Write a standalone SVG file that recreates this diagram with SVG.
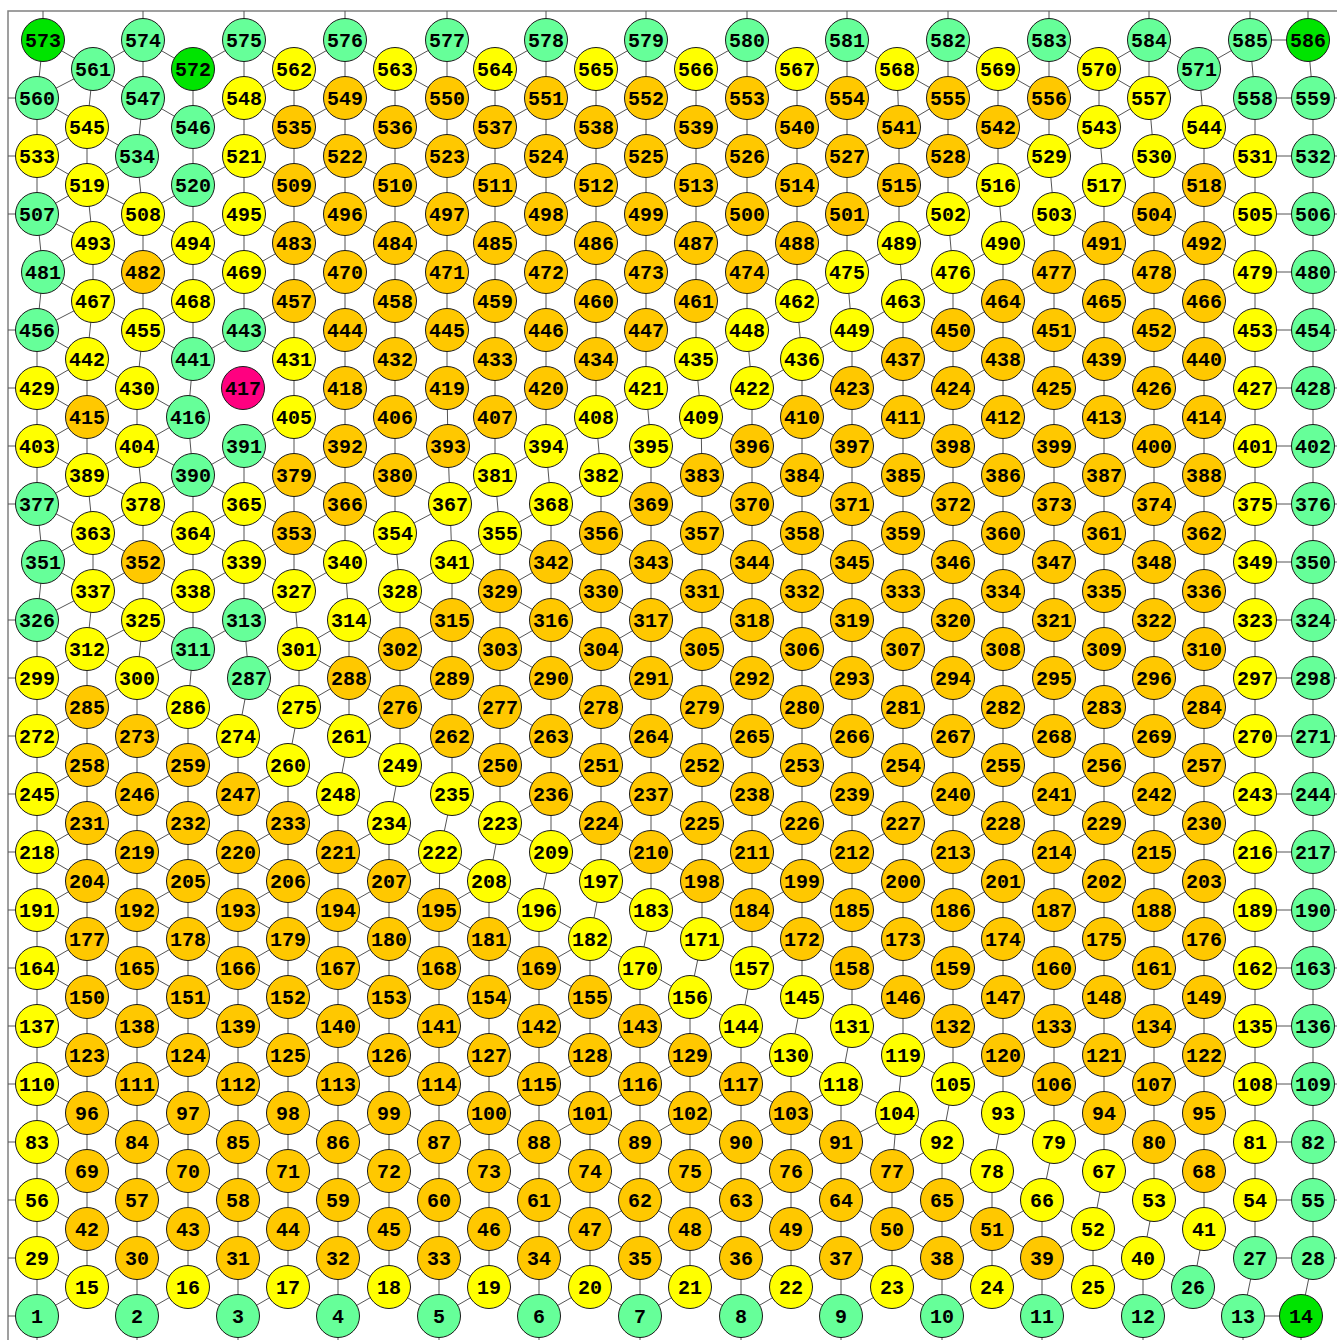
<svg xmlns="http://www.w3.org/2000/svg" width="1337" height="1340" viewBox="0 0 1337 1340">
<style>
.e path{fill:none;stroke:#555;stroke-width:1}
.fr{fill:none;stroke:#808080;stroke-width:1.5}
circle{stroke:#1a1a1a;stroke-width:1}
.b circle{fill:#00e400}
.g circle{fill:#66ff99}
.y circle{fill:#ffff00}
.o circle{fill:#ffc800}
.m circle{fill:#ff0080}
text{font-family:"Liberation Mono","DejaVu Sans Mono",monospace;font-size:20px;font-weight:bold;text-anchor:middle;fill:#000}
</style>
<rect width="1337" height="1340" fill="#fff"/>
<path class="fr" d="M8 1340V11H1337"/>
<g id="edges" class="e">
<path d="M43 40 93 69 143 40 193 69 244 40 294 69 345 40 395 69 447 40 495 69 546 40 596 69 646 40 696 69 747 40 797 69 847 40 897 69 948 40 998 69 1049 40 1099 69 1149 40 1199 69 1250 40"/>
<path d="M37 98 93 69 143 98 M244 98 294 69 345 98 395 69 447 98 495 69 546 98 596 69 646 98 696 69 747 98 797 69 847 98 897 69 948 98 998 69 1049 98 1099 69 1149 98 1199 69"/>
<path d="M37 98 87 127 M143 98 193 127 244 98 294 127 345 98 395 127 447 98 495 127 546 98 596 127 646 98 696 127 747 98 797 127 847 98 899 127 948 98 998 127 1049 98 1099 127 1149 98 M1204 127 1255 98"/>
<path d="M37 156 87 127 137 156 M244 156 294 127 345 156 395 127 447 156 495 127 546 156 596 127 646 156 696 127 747 156 797 127 847 156 899 127 948 156 998 127 1049 156 1099 127 M1154 156 1204 127 1255 156"/>
<path d="M37 156 87 185 137 156 M193 185 244 156 294 185 345 156 395 185 447 156 495 185 546 156 596 185 646 156 696 185 747 156 797 185 847 156 899 185 948 156 998 185 1049 156 M1104 185 1154 156 1204 185 1255 156"/>
<path d="M37 214 87 185 143 214 193 185 M244 214 294 185 345 214 395 185 447 214 495 185 546 214 596 185 646 214 696 185 747 214 797 185 847 214 899 185 948 214 998 185 M1054 214 1104 185 1154 214 1204 185 1255 214"/>
<path d="M37 214 93 243 143 214 193 243 244 214 294 243 345 214 395 243 447 214 495 243 546 214 596 243 646 214 696 243 747 214 797 243 847 214 899 243 948 214 M1003 243 1054 214 1104 243 1154 214 1204 243 1255 214"/>
<path d="M43 272 93 243 143 272 193 243 244 272 294 243 345 272 395 243 447 272 495 243 546 272 596 243 646 272 696 243 747 272 797 243 847 272 899 243 M953 272 1003 243 1054 272 1104 243 1154 272 1204 243 1255 272"/>
<path d="M43 272 93 301 143 272 193 301 244 272 294 301 345 272 395 301 447 272 495 301 546 272 596 301 646 272 696 301 747 272 797 301 847 272 M903 301 953 272 1003 301 1054 272 1104 301 1154 272 1204 301 1255 272"/>
<path d="M37 330 93 301 143 330 193 301 M244 330 294 301 345 330 395 301 447 330 495 301 546 330 596 301 646 330 696 301 747 330 797 301 M852 330 903 301 953 330 1003 301 1054 330 1104 301 1154 330 1204 301 1255 330"/>
<path d="M37 330 87 359 M143 330 193 359 244 330 294 359 345 330 395 359 447 330 495 359 546 330 596 359 646 330 696 359 747 330 M802 359 852 330 903 359 953 330 1003 359 1054 330 1104 359 1154 330 1204 359 1255 330"/>
<path d="M37 388 87 359 137 388 M294 359 345 388 395 359 447 388 495 359 546 388 596 359 646 388 696 359 M752 388 802 359 852 388 903 359 953 388 1003 359 1054 388 1104 359 1154 388 1204 359 1255 388"/>
<path d="M37 388 87 417 137 388 188 417 M294 417 345 388 395 417 447 388 495 417 546 388 596 417 646 388 M701 417 752 388 802 417 852 388 903 417 953 388 1003 417 1054 388 1104 417 1154 388 1204 417 1255 388"/>
<path d="M37 446 87 417 137 446 188 417 M244 446 294 417 345 446 395 417 448 446 495 417 546 446 596 417 M651 446 701 417 752 446 802 417 852 446 903 417 953 446 1003 417 1054 446 1104 417 1154 446 1204 417 1255 446"/>
<path d="M37 446 87 475 137 446 193 475 244 446 294 475 345 446 395 475 448 446 495 475 546 446 M601 475 651 446 702 475 752 446 802 475 852 446 903 475 953 446 1003 475 1054 446 1104 475 1154 446 1204 475 1255 446"/>
<path d="M37 504 87 475 143 504 193 475 244 504 294 475 345 504 395 475 450 504 495 475 M551 504 601 475 651 504 702 475 752 504 802 475 852 504 903 475 953 504 1003 475 1054 504 1104 475 1154 504 1204 475 1255 504"/>
<path d="M37 504 93 533 143 504 193 533 244 504 294 533 345 504 395 533 450 504 M500 533 551 504 601 533 651 504 702 533 752 504 802 533 852 504 903 533 953 504 1003 533 1054 504 1104 533 1154 504 1204 533 1255 504"/>
<path d="M43 562 93 533 143 562 193 533 244 562 294 533 345 562 395 533 M452 562 500 533 551 562 601 533 651 562 702 533 752 562 802 533 852 562 903 533 953 562 1003 533 1054 562 1104 533 1154 562 1204 533 1255 562"/>
<path d="M43 562 93 591 143 562 193 591 244 562 294 591 345 562 M400 591 452 562 500 591 551 562 601 591 651 562 702 591 752 562 802 591 852 562 903 591 953 562 1003 591 1054 562 1104 591 1154 562 1204 591 1255 562"/>
<path d="M37 620 93 591 143 620 193 591 M244 620 294 591 M349 620 400 591 452 620 500 591 551 620 601 591 651 620 702 591 752 620 802 591 852 620 903 591 953 620 1003 591 1054 620 1104 591 1154 620 1204 591 1255 620"/>
<path d="M37 620 87 649 143 620 193 649 244 620 M299 649 349 620 400 649 452 620 500 649 551 620 601 649 651 620 702 649 752 620 802 649 852 620 903 649 953 620 1003 649 1054 620 1104 649 1154 620 1204 649 1255 620"/>
<path d="M37 678 87 649 137 678 193 649 M249 678 299 649 349 678 400 649 452 678 500 649 551 678 601 649 651 678 702 649 752 678 802 649 852 678 903 649 953 678 1003 649 1054 678 1104 649 1154 678 1204 649 1255 678"/>
<path d="M37 678 87 707 137 678 188 707 M249 678 299 707 349 678 400 707 452 678 500 707 551 678 601 707 651 678 702 707 752 678 802 707 852 678 903 707 953 678 1003 707 1054 678 1104 707 1154 678 1204 707 1255 678"/>
<path d="M37 736 87 707 137 736 188 707 238 736 M299 707 349 736 400 707 452 736 500 707 551 736 601 707 651 736 702 707 752 736 802 707 852 736 903 707 953 736 1003 707 1054 736 1104 707 1154 736 1204 707 1255 736"/>
<path d="M37 736 87 765 137 736 188 765 238 736 288 765 M349 736 400 765 452 736 500 765 551 736 601 765 651 736 702 765 752 736 802 765 852 736 903 765 953 736 1003 765 1054 736 1104 765 1154 736 1204 765 1255 736"/>
<path d="M37 794 87 765 137 794 188 765 238 794 288 765 338 794 M400 765 452 794 500 765 551 794 601 765 651 794 702 765 752 794 802 765 852 794 903 765 953 794 1003 765 1054 794 1104 765 1154 794 1204 765 1255 794"/>
<path d="M37 794 87 823 137 794 188 823 238 794 288 823 338 794 389 823 M452 794 500 823 551 794 601 823 651 794 702 823 752 794 802 823 852 794 903 823 953 794 1003 823 1054 794 1104 823 1154 794 1204 823 1255 794"/>
<path d="M37 852 87 823 137 852 188 823 238 852 288 823 338 852 389 823 440 852 M500 823 551 852 601 823 651 852 702 823 752 852 802 823 852 852 903 823 953 852 1003 823 1054 852 1104 823 1154 852 1204 823 1255 852"/>
<path d="M37 852 87 881 137 852 188 881 238 852 288 881 338 852 389 881 440 852 489 881 M551 852 601 881 651 852 702 881 752 852 802 881 852 852 903 881 953 852 1003 881 1054 852 1104 881 1154 852 1204 881 1255 852"/>
<path d="M37 910 87 881 137 910 188 881 238 910 288 881 338 910 389 881 439 910 489 881 539 910 M601 881 651 910 702 881 752 910 802 881 852 910 903 881 953 910 1003 881 1054 910 1104 881 1154 910 1204 881 1255 910"/>
<path d="M37 910 87 939 137 910 188 939 238 910 288 939 338 910 389 939 439 910 489 939 539 910 590 939 M651 910 702 939 752 910 802 939 852 910 903 939 953 910 1003 939 1054 910 1104 939 1154 910 1204 939 1255 910"/>
<path d="M37 968 87 939 137 968 188 939 238 968 288 939 338 968 389 939 439 968 489 939 539 968 590 939 640 968 M702 939 752 968 802 939 852 968 903 939 953 968 1003 939 1054 968 1104 939 1154 968 1204 939 1255 968"/>
<path d="M37 968 87 997 137 968 188 997 238 968 288 997 338 968 389 997 439 968 489 997 539 968 590 997 640 968 690 997 M752 968 802 997 852 968 903 997 953 968 1003 997 1054 968 1104 997 1154 968 1204 997 1255 968"/>
<path d="M37 1026 87 997 137 1026 188 997 238 1026 288 997 338 1026 389 997 439 1026 489 997 539 1026 590 997 640 1026 690 997 741 1026 M802 997 852 1026 903 997 953 1026 1003 997 1054 1026 1104 997 1154 1026 1204 997 1255 1026"/>
<path d="M37 1026 87 1055 137 1026 188 1055 238 1026 288 1055 338 1026 389 1055 439 1026 489 1055 539 1026 590 1055 640 1026 690 1055 741 1026 791 1055 M852 1026 903 1055 953 1026 1003 1055 1054 1026 1104 1055 1154 1026 1204 1055 1255 1026"/>
<path d="M37 1084 87 1055 137 1084 188 1055 238 1084 288 1055 338 1084 389 1055 439 1084 489 1055 539 1084 590 1055 640 1084 690 1055 741 1084 791 1055 841 1084 M903 1055 953 1084 1003 1055 1054 1084 1104 1055 1154 1084 1204 1055 1255 1084"/>
<path d="M37 1084 87 1113 137 1084 188 1113 238 1084 288 1113 338 1084 389 1113 439 1084 489 1113 539 1084 590 1113 640 1084 690 1113 741 1084 791 1113 841 1084 897 1113 M953 1084 1003 1113 1054 1084 1104 1113 1154 1084 1204 1113 1255 1084"/>
<path d="M37 1142 87 1113 137 1142 188 1113 238 1142 288 1113 338 1142 389 1113 439 1142 489 1113 539 1142 590 1113 640 1142 690 1113 741 1142 791 1113 841 1142 897 1113 942 1142 M1003 1113 1054 1142 1104 1113 1154 1142 1204 1113 1255 1142"/>
<path d="M37 1142 87 1171 137 1142 188 1171 238 1142 288 1171 338 1142 389 1171 439 1142 489 1171 539 1142 590 1171 640 1142 690 1171 741 1142 791 1171 841 1142 892 1171 942 1142 992 1171 M1054 1142 1104 1171 1154 1142 1204 1171 1255 1142"/>
<path d="M37 1200 87 1171 137 1200 188 1171 238 1200 288 1171 338 1200 389 1171 439 1200 489 1171 539 1200 590 1171 640 1200 690 1171 741 1200 791 1171 841 1200 892 1171 942 1200 992 1171 1042 1200 M1104 1171 1154 1200 1204 1171 1255 1200"/>
<path d="M37 1200 87 1229 137 1200 188 1229 238 1200 288 1229 338 1200 389 1229 439 1200 489 1229 539 1200 590 1229 640 1200 690 1229 741 1200 791 1229 841 1200 892 1229 942 1200 992 1229 1042 1200 1093 1229 M1154 1200 1204 1229 1255 1200"/>
<path d="M37 1258 87 1229 137 1258 188 1229 238 1258 288 1229 338 1258 389 1229 439 1258 489 1229 539 1258 590 1229 640 1258 690 1229 741 1258 791 1229 841 1258 892 1229 942 1258 992 1229 1042 1258 1093 1229 1143 1258 M1204 1229 1255 1258"/>
<path d="M37 1258 87 1287 137 1258 188 1287 238 1258 288 1287 338 1258 389 1287 439 1258 489 1287 539 1258 590 1287 640 1258 690 1287 741 1258 791 1287 841 1258 892 1287 942 1258 992 1287 1042 1258 1093 1287 1143 1258 1193 1287"/>
<path d="M37 1316 87 1287 137 1316 188 1287 238 1316 288 1287 338 1316 389 1287 439 1316 489 1287 539 1316 590 1287 640 1316 690 1287 741 1316 791 1287 841 1316 892 1287 942 1316 992 1287 1042 1316 1093 1287 1143 1316 1193 1287 1243 1316"/>
<path d="M43 40 37 98 37 156 37 214 43 272 37 330 37 388 37 446 37 504 43 562 37 620 37 678 37 736 37 794 37 852 37 910 37 968 37 1026 37 1084 37 1142 37 1200 37 1258 37 1316"/>
<path d="M93 69 87 127 87 185 93 243 93 301 87 359 87 417 87 475 93 533 93 591 87 649 87 707 87 765 87 823 87 881 87 939 87 997 87 1055 87 1113 87 1171 87 1229 87 1287"/>
<path d="M143 40 143 98 137 156 143 214 143 272 143 330 137 388 137 446 143 504 143 562 143 620 137 678 137 736 137 794 137 852 137 910 137 968 137 1026 137 1084 137 1142 137 1200 137 1258 137 1316"/>
<path d="M193 69 193 127 193 185 193 243 193 301 193 359 188 417 193 475 193 533 193 591 193 649 188 707 188 765 188 823 188 881 188 939 188 997 188 1055 188 1113 188 1171 188 1229 188 1287"/>
<path d="M244 40 244 98 244 156 244 214 244 272 244 330 M244 446 244 504 244 562 244 620 249 678 238 736 238 794 238 852 238 910 238 968 238 1026 238 1084 238 1142 238 1200 238 1258 238 1316"/>
<path d="M294 69 294 127 294 185 294 243 294 301 294 359 294 417 294 475 294 533 294 591 299 649 299 707 288 765 288 823 288 881 288 939 288 997 288 1055 288 1113 288 1171 288 1229 288 1287"/>
<path d="M345 40 345 98 345 156 345 214 345 272 345 330 345 388 345 446 345 504 345 562 349 620 349 678 349 736 338 794 338 852 338 910 338 968 338 1026 338 1084 338 1142 338 1200 338 1258 338 1316"/>
<path d="M395 69 395 127 395 185 395 243 395 301 395 359 395 417 395 475 395 533 400 591 400 649 400 707 400 765 389 823 389 881 389 939 389 997 389 1055 389 1113 389 1171 389 1229 389 1287"/>
<path d="M447 40 447 98 447 156 447 214 447 272 447 330 447 388 448 446 450 504 452 562 452 620 452 678 452 736 452 794 440 852 439 910 439 968 439 1026 439 1084 439 1142 439 1200 439 1258 439 1316"/>
<path d="M495 69 495 127 495 185 495 243 495 301 495 359 495 417 495 475 500 533 500 591 500 649 500 707 500 765 500 823 489 881 489 939 489 997 489 1055 489 1113 489 1171 489 1229 489 1287"/>
<path d="M546 40 546 98 546 156 546 214 546 272 546 330 546 388 546 446 551 504 551 562 551 620 551 678 551 736 551 794 551 852 539 910 539 968 539 1026 539 1084 539 1142 539 1200 539 1258 539 1316"/>
<path d="M596 69 596 127 596 185 596 243 596 301 596 359 596 417 601 475 601 533 601 591 601 649 601 707 601 765 601 823 601 881 590 939 590 997 590 1055 590 1113 590 1171 590 1229 590 1287"/>
<path d="M646 40 646 98 646 156 646 214 646 272 646 330 646 388 651 446 651 504 651 562 651 620 651 678 651 736 651 794 651 852 651 910 640 968 640 1026 640 1084 640 1142 640 1200 640 1258 640 1316"/>
<path d="M696 69 696 127 696 185 696 243 696 301 696 359 701 417 702 475 702 533 702 591 702 649 702 707 702 765 702 823 702 881 702 939 690 997 690 1055 690 1113 690 1171 690 1229 690 1287"/>
<path d="M747 40 747 98 747 156 747 214 747 272 747 330 752 388 752 446 752 504 752 562 752 620 752 678 752 736 752 794 752 852 752 910 752 968 741 1026 741 1084 741 1142 741 1200 741 1258 741 1316"/>
<path d="M797 69 797 127 797 185 797 243 797 301 802 359 802 417 802 475 802 533 802 591 802 649 802 707 802 765 802 823 802 881 802 939 802 997 791 1055 791 1113 791 1171 791 1229 791 1287"/>
<path d="M847 40 847 98 847 156 847 214 847 272 852 330 852 388 852 446 852 504 852 562 852 620 852 678 852 736 852 794 852 852 852 910 852 968 852 1026 841 1084 841 1142 841 1200 841 1258 841 1316"/>
<path d="M897 69 899 127 899 185 899 243 903 301 903 359 903 417 903 475 903 533 903 591 903 649 903 707 903 765 903 823 903 881 903 939 903 997 903 1055 897 1113 892 1171 892 1229 892 1287"/>
<path d="M948 40 948 98 948 156 948 214 953 272 953 330 953 388 953 446 953 504 953 562 953 620 953 678 953 736 953 794 953 852 953 910 953 968 953 1026 953 1084 942 1142 942 1200 942 1258 942 1316"/>
<path d="M998 69 998 127 998 185 1003 243 1003 301 1003 359 1003 417 1003 475 1003 533 1003 591 1003 649 1003 707 1003 765 1003 823 1003 881 1003 939 1003 997 1003 1055 1003 1113 992 1171 992 1229 992 1287"/>
<path d="M1049 40 1049 98 1049 156 1054 214 1054 272 1054 330 1054 388 1054 446 1054 504 1054 562 1054 620 1054 678 1054 736 1054 794 1054 852 1054 910 1054 968 1054 1026 1054 1084 1054 1142 1042 1200 1042 1258 1042 1316"/>
<path d="M1099 69 1099 127 1104 185 1104 243 1104 301 1104 359 1104 417 1104 475 1104 533 1104 591 1104 649 1104 707 1104 765 1104 823 1104 881 1104 939 1104 997 1104 1055 1104 1113 1104 1171 1093 1229 1093 1287"/>
<path d="M1149 40 1149 98 1154 156 1154 214 1154 272 1154 330 1154 388 1154 446 1154 504 1154 562 1154 620 1154 678 1154 736 1154 794 1154 852 1154 910 1154 968 1154 1026 1154 1084 1154 1142 1154 1200 1143 1258 1143 1316"/>
<path d="M1199 69 1204 127 1204 185 1204 243 1204 301 1204 359 1204 417 1204 475 1204 533 1204 591 1204 649 1204 707 1204 765 1204 823 1204 881 1204 939 1204 997 1204 1055 1204 1113 1204 1171 1204 1229 1193 1287"/>
<path d="M1250 40 1255 98 1255 156 1255 214 1255 272 1255 330 1255 388 1255 446 1255 504 1255 562 1255 620 1255 678 1255 736 1255 794 1255 852 1255 910 1255 968 1255 1026 1255 1084 1255 1142 1255 1200 1255 1258 1243 1316"/>
<path d="M1308 40 1313 98 1313 156 1313 214 1313 272 1313 330 1313 388 1313 446 1313 504 1313 562 1313 620 1313 678 1313 736 1313 794 1313 852 1313 910 1313 968 1313 1026 1313 1084 1313 1142 1313 1200 1313 1258 1301 1316"/>
<path d="M1250 40H1308M1255 98H1337M1255 156H1337M1255 214H1337M1255 272H1337M1255 330H1337M1255 388H1337M1255 446H1337M1255 504H1337M1255 562H1337M1255 620H1337M1255 678H1337M1255 736H1337M1255 794H1337M1255 852H1337M1255 910H1337M1255 968H1337M1255 1026H1337M1255 1084H1337M1255 1142H1337M1255 1200H1337M1255 1258H1337M1243 1316H1301"/>
<path d="M43 11V40M143 11V40M244 11V40M345 11V40M447 11V40M546 11V40M646 11V40M747 11V40M847 11V40M948 11V40M1049 11V40M1149 11V40M1250 11V40M1308 11V40"/>
<path d="M37 1316V1340M137 1316V1340M238 1316V1340M338 1316V1340M439 1316V1340M539 1316V1340M640 1316V1340M741 1316V1340M841 1316V1340M942 1316V1340M1042 1316V1340M1143 1316V1340M1243 1316V1340M1301 1316V1340"/>
<path d="M8 98H37M8 156H37M8 214H37M8 330H37M8 388H37M8 446H37M8 504H37M8 620H37M8 678H37M8 736H37M8 794H37M8 852H37M8 910H37M8 968H37M8 1026H37M8 1084H37M8 1142H37M8 1200H37M8 1258H37M8 1316H37"/>
</g>
<g id="nodes">
<g id="n573" class="b"><circle cx="43" cy="40" r="21.5"/><text x="43" y="47">573</text></g>
<g id="n574" class="g"><circle cx="143" cy="40" r="21.5"/><text x="143" y="47">574</text></g>
<g id="n575" class="g"><circle cx="244" cy="40" r="21.5"/><text x="244" y="47">575</text></g>
<g id="n576" class="g"><circle cx="345" cy="40" r="21.5"/><text x="345" y="47">576</text></g>
<g id="n577" class="g"><circle cx="447" cy="40" r="21.5"/><text x="447" y="47">577</text></g>
<g id="n578" class="g"><circle cx="546" cy="40" r="21.5"/><text x="546" y="47">578</text></g>
<g id="n579" class="g"><circle cx="646" cy="40" r="21.5"/><text x="646" y="47">579</text></g>
<g id="n580" class="g"><circle cx="747" cy="40" r="21.5"/><text x="747" y="47">580</text></g>
<g id="n581" class="g"><circle cx="847" cy="40" r="21.5"/><text x="847" y="47">581</text></g>
<g id="n582" class="g"><circle cx="948" cy="40" r="21.5"/><text x="948" y="47">582</text></g>
<g id="n583" class="g"><circle cx="1049" cy="40" r="21.5"/><text x="1049" y="47">583</text></g>
<g id="n584" class="g"><circle cx="1149" cy="40" r="21.5"/><text x="1149" y="47">584</text></g>
<g id="n585" class="g"><circle cx="1250" cy="40" r="21.5"/><text x="1250" y="47">585</text></g>
<g id="n586" class="b"><circle cx="1308" cy="40" r="21.5"/><text x="1308" y="47">586</text></g>
<g id="n561" class="g"><circle cx="93" cy="69" r="21.5"/><text x="93" y="76">561</text></g>
<g id="n572" class="b"><circle cx="193" cy="69" r="21.5"/><text x="193" y="76">572</text></g>
<g id="n562" class="y"><circle cx="294" cy="69" r="21.5"/><text x="294" y="76">562</text></g>
<g id="n563" class="y"><circle cx="395" cy="69" r="21.5"/><text x="395" y="76">563</text></g>
<g id="n564" class="y"><circle cx="495" cy="69" r="21.5"/><text x="495" y="76">564</text></g>
<g id="n565" class="y"><circle cx="596" cy="69" r="21.5"/><text x="596" y="76">565</text></g>
<g id="n566" class="y"><circle cx="696" cy="69" r="21.5"/><text x="696" y="76">566</text></g>
<g id="n567" class="y"><circle cx="797" cy="69" r="21.5"/><text x="797" y="76">567</text></g>
<g id="n568" class="y"><circle cx="897" cy="69" r="21.5"/><text x="897" y="76">568</text></g>
<g id="n569" class="y"><circle cx="998" cy="69" r="21.5"/><text x="998" y="76">569</text></g>
<g id="n570" class="y"><circle cx="1099" cy="69" r="21.5"/><text x="1099" y="76">570</text></g>
<g id="n571" class="g"><circle cx="1199" cy="69" r="21.5"/><text x="1199" y="76">571</text></g>
<g id="n560" class="g"><circle cx="37" cy="98" r="21.5"/><text x="37" y="105">560</text></g>
<g id="n547" class="g"><circle cx="143" cy="98" r="21.5"/><text x="143" y="105">547</text></g>
<g id="n548" class="y"><circle cx="244" cy="98" r="21.5"/><text x="244" y="105">548</text></g>
<g id="n549" class="o"><circle cx="345" cy="98" r="21.5"/><text x="345" y="105">549</text></g>
<g id="n550" class="o"><circle cx="447" cy="98" r="21.5"/><text x="447" y="105">550</text></g>
<g id="n551" class="o"><circle cx="546" cy="98" r="21.5"/><text x="546" y="105">551</text></g>
<g id="n552" class="o"><circle cx="646" cy="98" r="21.5"/><text x="646" y="105">552</text></g>
<g id="n553" class="o"><circle cx="747" cy="98" r="21.5"/><text x="747" y="105">553</text></g>
<g id="n554" class="o"><circle cx="847" cy="98" r="21.5"/><text x="847" y="105">554</text></g>
<g id="n555" class="o"><circle cx="948" cy="98" r="21.5"/><text x="948" y="105">555</text></g>
<g id="n556" class="o"><circle cx="1049" cy="98" r="21.5"/><text x="1049" y="105">556</text></g>
<g id="n557" class="y"><circle cx="1149" cy="98" r="21.5"/><text x="1149" y="105">557</text></g>
<g id="n558" class="g"><circle cx="1255" cy="98" r="21.5"/><text x="1255" y="105">558</text></g>
<g id="n559" class="g"><circle cx="1313" cy="98" r="21.5"/><text x="1313" y="105">559</text></g>
<g id="n545" class="y"><circle cx="87" cy="127" r="21.5"/><text x="87" y="134">545</text></g>
<g id="n546" class="g"><circle cx="193" cy="127" r="21.5"/><text x="193" y="134">546</text></g>
<g id="n535" class="o"><circle cx="294" cy="127" r="21.5"/><text x="294" y="134">535</text></g>
<g id="n536" class="o"><circle cx="395" cy="127" r="21.5"/><text x="395" y="134">536</text></g>
<g id="n537" class="o"><circle cx="495" cy="127" r="21.5"/><text x="495" y="134">537</text></g>
<g id="n538" class="o"><circle cx="596" cy="127" r="21.5"/><text x="596" y="134">538</text></g>
<g id="n539" class="o"><circle cx="696" cy="127" r="21.5"/><text x="696" y="134">539</text></g>
<g id="n540" class="o"><circle cx="797" cy="127" r="21.5"/><text x="797" y="134">540</text></g>
<g id="n541" class="o"><circle cx="899" cy="127" r="21.5"/><text x="899" y="134">541</text></g>
<g id="n542" class="o"><circle cx="998" cy="127" r="21.5"/><text x="998" y="134">542</text></g>
<g id="n543" class="y"><circle cx="1099" cy="127" r="21.5"/><text x="1099" y="134">543</text></g>
<g id="n544" class="y"><circle cx="1204" cy="127" r="21.5"/><text x="1204" y="134">544</text></g>
<g id="n533" class="y"><circle cx="37" cy="156" r="21.5"/><text x="37" y="163">533</text></g>
<g id="n534" class="g"><circle cx="137" cy="156" r="21.5"/><text x="137" y="163">534</text></g>
<g id="n521" class="y"><circle cx="244" cy="156" r="21.5"/><text x="244" y="163">521</text></g>
<g id="n522" class="o"><circle cx="345" cy="156" r="21.5"/><text x="345" y="163">522</text></g>
<g id="n523" class="o"><circle cx="447" cy="156" r="21.5"/><text x="447" y="163">523</text></g>
<g id="n524" class="o"><circle cx="546" cy="156" r="21.5"/><text x="546" y="163">524</text></g>
<g id="n525" class="o"><circle cx="646" cy="156" r="21.5"/><text x="646" y="163">525</text></g>
<g id="n526" class="o"><circle cx="747" cy="156" r="21.5"/><text x="747" y="163">526</text></g>
<g id="n527" class="o"><circle cx="847" cy="156" r="21.5"/><text x="847" y="163">527</text></g>
<g id="n528" class="o"><circle cx="948" cy="156" r="21.5"/><text x="948" y="163">528</text></g>
<g id="n529" class="y"><circle cx="1049" cy="156" r="21.5"/><text x="1049" y="163">529</text></g>
<g id="n530" class="y"><circle cx="1154" cy="156" r="21.5"/><text x="1154" y="163">530</text></g>
<g id="n531" class="y"><circle cx="1255" cy="156" r="21.5"/><text x="1255" y="163">531</text></g>
<g id="n532" class="g"><circle cx="1313" cy="156" r="21.5"/><text x="1313" y="163">532</text></g>
<g id="n519" class="y"><circle cx="87" cy="185" r="21.5"/><text x="87" y="192">519</text></g>
<g id="n520" class="g"><circle cx="193" cy="185" r="21.5"/><text x="193" y="192">520</text></g>
<g id="n509" class="o"><circle cx="294" cy="185" r="21.5"/><text x="294" y="192">509</text></g>
<g id="n510" class="o"><circle cx="395" cy="185" r="21.5"/><text x="395" y="192">510</text></g>
<g id="n511" class="o"><circle cx="495" cy="185" r="21.5"/><text x="495" y="192">511</text></g>
<g id="n512" class="o"><circle cx="596" cy="185" r="21.5"/><text x="596" y="192">512</text></g>
<g id="n513" class="o"><circle cx="696" cy="185" r="21.5"/><text x="696" y="192">513</text></g>
<g id="n514" class="o"><circle cx="797" cy="185" r="21.5"/><text x="797" y="192">514</text></g>
<g id="n515" class="o"><circle cx="899" cy="185" r="21.5"/><text x="899" y="192">515</text></g>
<g id="n516" class="y"><circle cx="998" cy="185" r="21.5"/><text x="998" y="192">516</text></g>
<g id="n517" class="y"><circle cx="1104" cy="185" r="21.5"/><text x="1104" y="192">517</text></g>
<g id="n518" class="o"><circle cx="1204" cy="185" r="21.5"/><text x="1204" y="192">518</text></g>
<g id="n507" class="g"><circle cx="37" cy="214" r="21.5"/><text x="37" y="221">507</text></g>
<g id="n508" class="y"><circle cx="143" cy="214" r="21.5"/><text x="143" y="221">508</text></g>
<g id="n495" class="y"><circle cx="244" cy="214" r="21.5"/><text x="244" y="221">495</text></g>
<g id="n496" class="o"><circle cx="345" cy="214" r="21.5"/><text x="345" y="221">496</text></g>
<g id="n497" class="o"><circle cx="447" cy="214" r="21.5"/><text x="447" y="221">497</text></g>
<g id="n498" class="o"><circle cx="546" cy="214" r="21.5"/><text x="546" y="221">498</text></g>
<g id="n499" class="o"><circle cx="646" cy="214" r="21.5"/><text x="646" y="221">499</text></g>
<g id="n500" class="o"><circle cx="747" cy="214" r="21.5"/><text x="747" y="221">500</text></g>
<g id="n501" class="o"><circle cx="847" cy="214" r="21.5"/><text x="847" y="221">501</text></g>
<g id="n502" class="y"><circle cx="948" cy="214" r="21.5"/><text x="948" y="221">502</text></g>
<g id="n503" class="y"><circle cx="1054" cy="214" r="21.5"/><text x="1054" y="221">503</text></g>
<g id="n504" class="o"><circle cx="1154" cy="214" r="21.5"/><text x="1154" y="221">504</text></g>
<g id="n505" class="y"><circle cx="1255" cy="214" r="21.5"/><text x="1255" y="221">505</text></g>
<g id="n506" class="g"><circle cx="1313" cy="214" r="21.5"/><text x="1313" y="221">506</text></g>
<g id="n493" class="y"><circle cx="93" cy="243" r="21.5"/><text x="93" y="250">493</text></g>
<g id="n494" class="y"><circle cx="193" cy="243" r="21.5"/><text x="193" y="250">494</text></g>
<g id="n483" class="o"><circle cx="294" cy="243" r="21.5"/><text x="294" y="250">483</text></g>
<g id="n484" class="o"><circle cx="395" cy="243" r="21.5"/><text x="395" y="250">484</text></g>
<g id="n485" class="o"><circle cx="495" cy="243" r="21.5"/><text x="495" y="250">485</text></g>
<g id="n486" class="o"><circle cx="596" cy="243" r="21.5"/><text x="596" y="250">486</text></g>
<g id="n487" class="o"><circle cx="696" cy="243" r="21.5"/><text x="696" y="250">487</text></g>
<g id="n488" class="o"><circle cx="797" cy="243" r="21.5"/><text x="797" y="250">488</text></g>
<g id="n489" class="y"><circle cx="899" cy="243" r="21.5"/><text x="899" y="250">489</text></g>
<g id="n490" class="y"><circle cx="1003" cy="243" r="21.5"/><text x="1003" y="250">490</text></g>
<g id="n491" class="o"><circle cx="1104" cy="243" r="21.5"/><text x="1104" y="250">491</text></g>
<g id="n492" class="o"><circle cx="1204" cy="243" r="21.5"/><text x="1204" y="250">492</text></g>
<g id="n481" class="g"><circle cx="43" cy="272" r="21.5"/><text x="43" y="279">481</text></g>
<g id="n482" class="o"><circle cx="143" cy="272" r="21.5"/><text x="143" y="279">482</text></g>
<g id="n469" class="y"><circle cx="244" cy="272" r="21.5"/><text x="244" y="279">469</text></g>
<g id="n470" class="o"><circle cx="345" cy="272" r="21.5"/><text x="345" y="279">470</text></g>
<g id="n471" class="o"><circle cx="447" cy="272" r="21.5"/><text x="447" y="279">471</text></g>
<g id="n472" class="o"><circle cx="546" cy="272" r="21.5"/><text x="546" y="279">472</text></g>
<g id="n473" class="o"><circle cx="646" cy="272" r="21.5"/><text x="646" y="279">473</text></g>
<g id="n474" class="o"><circle cx="747" cy="272" r="21.5"/><text x="747" y="279">474</text></g>
<g id="n475" class="y"><circle cx="847" cy="272" r="21.5"/><text x="847" y="279">475</text></g>
<g id="n476" class="y"><circle cx="953" cy="272" r="21.5"/><text x="953" y="279">476</text></g>
<g id="n477" class="o"><circle cx="1054" cy="272" r="21.5"/><text x="1054" y="279">477</text></g>
<g id="n478" class="o"><circle cx="1154" cy="272" r="21.5"/><text x="1154" y="279">478</text></g>
<g id="n479" class="y"><circle cx="1255" cy="272" r="21.5"/><text x="1255" y="279">479</text></g>
<g id="n480" class="g"><circle cx="1313" cy="272" r="21.5"/><text x="1313" y="279">480</text></g>
<g id="n467" class="y"><circle cx="93" cy="301" r="21.5"/><text x="93" y="308">467</text></g>
<g id="n468" class="y"><circle cx="193" cy="301" r="21.5"/><text x="193" y="308">468</text></g>
<g id="n457" class="o"><circle cx="294" cy="301" r="21.5"/><text x="294" y="308">457</text></g>
<g id="n458" class="o"><circle cx="395" cy="301" r="21.5"/><text x="395" y="308">458</text></g>
<g id="n459" class="o"><circle cx="495" cy="301" r="21.5"/><text x="495" y="308">459</text></g>
<g id="n460" class="o"><circle cx="596" cy="301" r="21.5"/><text x="596" y="308">460</text></g>
<g id="n461" class="o"><circle cx="696" cy="301" r="21.5"/><text x="696" y="308">461</text></g>
<g id="n462" class="y"><circle cx="797" cy="301" r="21.5"/><text x="797" y="308">462</text></g>
<g id="n463" class="y"><circle cx="903" cy="301" r="21.5"/><text x="903" y="308">463</text></g>
<g id="n464" class="o"><circle cx="1003" cy="301" r="21.5"/><text x="1003" y="308">464</text></g>
<g id="n465" class="o"><circle cx="1104" cy="301" r="21.5"/><text x="1104" y="308">465</text></g>
<g id="n466" class="o"><circle cx="1204" cy="301" r="21.5"/><text x="1204" y="308">466</text></g>
<g id="n456" class="g"><circle cx="37" cy="330" r="21.5"/><text x="37" y="337">456</text></g>
<g id="n455" class="y"><circle cx="143" cy="330" r="21.5"/><text x="143" y="337">455</text></g>
<g id="n443" class="g"><circle cx="244" cy="330" r="21.5"/><text x="244" y="337">443</text></g>
<g id="n444" class="o"><circle cx="345" cy="330" r="21.5"/><text x="345" y="337">444</text></g>
<g id="n445" class="o"><circle cx="447" cy="330" r="21.5"/><text x="447" y="337">445</text></g>
<g id="n446" class="o"><circle cx="546" cy="330" r="21.5"/><text x="546" y="337">446</text></g>
<g id="n447" class="o"><circle cx="646" cy="330" r="21.5"/><text x="646" y="337">447</text></g>
<g id="n448" class="y"><circle cx="747" cy="330" r="21.5"/><text x="747" y="337">448</text></g>
<g id="n449" class="y"><circle cx="852" cy="330" r="21.5"/><text x="852" y="337">449</text></g>
<g id="n450" class="o"><circle cx="953" cy="330" r="21.5"/><text x="953" y="337">450</text></g>
<g id="n451" class="o"><circle cx="1054" cy="330" r="21.5"/><text x="1054" y="337">451</text></g>
<g id="n452" class="o"><circle cx="1154" cy="330" r="21.5"/><text x="1154" y="337">452</text></g>
<g id="n453" class="y"><circle cx="1255" cy="330" r="21.5"/><text x="1255" y="337">453</text></g>
<g id="n454" class="g"><circle cx="1313" cy="330" r="21.5"/><text x="1313" y="337">454</text></g>
<g id="n442" class="y"><circle cx="87" cy="359" r="21.5"/><text x="87" y="366">442</text></g>
<g id="n441" class="g"><circle cx="193" cy="359" r="21.5"/><text x="193" y="366">441</text></g>
<g id="n431" class="y"><circle cx="294" cy="359" r="21.5"/><text x="294" y="366">431</text></g>
<g id="n432" class="o"><circle cx="395" cy="359" r="21.5"/><text x="395" y="366">432</text></g>
<g id="n433" class="o"><circle cx="495" cy="359" r="21.5"/><text x="495" y="366">433</text></g>
<g id="n434" class="o"><circle cx="596" cy="359" r="21.5"/><text x="596" y="366">434</text></g>
<g id="n435" class="y"><circle cx="696" cy="359" r="21.5"/><text x="696" y="366">435</text></g>
<g id="n436" class="y"><circle cx="802" cy="359" r="21.5"/><text x="802" y="366">436</text></g>
<g id="n437" class="o"><circle cx="903" cy="359" r="21.5"/><text x="903" y="366">437</text></g>
<g id="n438" class="o"><circle cx="1003" cy="359" r="21.5"/><text x="1003" y="366">438</text></g>
<g id="n439" class="o"><circle cx="1104" cy="359" r="21.5"/><text x="1104" y="366">439</text></g>
<g id="n440" class="o"><circle cx="1204" cy="359" r="21.5"/><text x="1204" y="366">440</text></g>
<g id="n429" class="y"><circle cx="37" cy="388" r="21.5"/><text x="37" y="395">429</text></g>
<g id="n430" class="y"><circle cx="137" cy="388" r="21.5"/><text x="137" y="395">430</text></g>
<g id="n417" class="m"><circle cx="243" cy="388" r="21.5"/><text x="243" y="395">417</text></g>
<g id="n418" class="o"><circle cx="345" cy="388" r="21.5"/><text x="345" y="395">418</text></g>
<g id="n419" class="o"><circle cx="447" cy="388" r="21.5"/><text x="447" y="395">419</text></g>
<g id="n420" class="o"><circle cx="546" cy="388" r="21.5"/><text x="546" y="395">420</text></g>
<g id="n421" class="y"><circle cx="646" cy="388" r="21.5"/><text x="646" y="395">421</text></g>
<g id="n422" class="y"><circle cx="752" cy="388" r="21.5"/><text x="752" y="395">422</text></g>
<g id="n423" class="o"><circle cx="852" cy="388" r="21.5"/><text x="852" y="395">423</text></g>
<g id="n424" class="o"><circle cx="953" cy="388" r="21.5"/><text x="953" y="395">424</text></g>
<g id="n425" class="o"><circle cx="1054" cy="388" r="21.5"/><text x="1054" y="395">425</text></g>
<g id="n426" class="o"><circle cx="1154" cy="388" r="21.5"/><text x="1154" y="395">426</text></g>
<g id="n427" class="y"><circle cx="1255" cy="388" r="21.5"/><text x="1255" y="395">427</text></g>
<g id="n428" class="g"><circle cx="1313" cy="388" r="21.5"/><text x="1313" y="395">428</text></g>
<g id="n415" class="o"><circle cx="87" cy="417" r="21.5"/><text x="87" y="424">415</text></g>
<g id="n416" class="g"><circle cx="188" cy="417" r="21.5"/><text x="188" y="424">416</text></g>
<g id="n405" class="y"><circle cx="294" cy="417" r="21.5"/><text x="294" y="424">405</text></g>
<g id="n406" class="o"><circle cx="395" cy="417" r="21.5"/><text x="395" y="424">406</text></g>
<g id="n407" class="o"><circle cx="495" cy="417" r="21.5"/><text x="495" y="424">407</text></g>
<g id="n408" class="y"><circle cx="596" cy="417" r="21.5"/><text x="596" y="424">408</text></g>
<g id="n409" class="y"><circle cx="701" cy="417" r="21.5"/><text x="701" y="424">409</text></g>
<g id="n410" class="o"><circle cx="802" cy="417" r="21.5"/><text x="802" y="424">410</text></g>
<g id="n411" class="o"><circle cx="903" cy="417" r="21.5"/><text x="903" y="424">411</text></g>
<g id="n412" class="o"><circle cx="1003" cy="417" r="21.5"/><text x="1003" y="424">412</text></g>
<g id="n413" class="o"><circle cx="1104" cy="417" r="21.5"/><text x="1104" y="424">413</text></g>
<g id="n414" class="o"><circle cx="1204" cy="417" r="21.5"/><text x="1204" y="424">414</text></g>
<g id="n403" class="y"><circle cx="37" cy="446" r="21.5"/><text x="37" y="453">403</text></g>
<g id="n404" class="y"><circle cx="137" cy="446" r="21.5"/><text x="137" y="453">404</text></g>
<g id="n391" class="g"><circle cx="244" cy="446" r="21.5"/><text x="244" y="453">391</text></g>
<g id="n392" class="o"><circle cx="345" cy="446" r="21.5"/><text x="345" y="453">392</text></g>
<g id="n393" class="o"><circle cx="448" cy="446" r="21.5"/><text x="448" y="453">393</text></g>
<g id="n394" class="y"><circle cx="546" cy="446" r="21.5"/><text x="546" y="453">394</text></g>
<g id="n395" class="y"><circle cx="651" cy="446" r="21.5"/><text x="651" y="453">395</text></g>
<g id="n396" class="o"><circle cx="752" cy="446" r="21.5"/><text x="752" y="453">396</text></g>
<g id="n397" class="o"><circle cx="852" cy="446" r="21.5"/><text x="852" y="453">397</text></g>
<g id="n398" class="o"><circle cx="953" cy="446" r="21.5"/><text x="953" y="453">398</text></g>
<g id="n399" class="o"><circle cx="1054" cy="446" r="21.5"/><text x="1054" y="453">399</text></g>
<g id="n400" class="o"><circle cx="1154" cy="446" r="21.5"/><text x="1154" y="453">400</text></g>
<g id="n401" class="y"><circle cx="1255" cy="446" r="21.5"/><text x="1255" y="453">401</text></g>
<g id="n402" class="g"><circle cx="1313" cy="446" r="21.5"/><text x="1313" y="453">402</text></g>
<g id="n389" class="y"><circle cx="87" cy="475" r="21.5"/><text x="87" y="482">389</text></g>
<g id="n390" class="g"><circle cx="193" cy="475" r="21.5"/><text x="193" y="482">390</text></g>
<g id="n379" class="o"><circle cx="294" cy="475" r="21.5"/><text x="294" y="482">379</text></g>
<g id="n380" class="o"><circle cx="395" cy="475" r="21.5"/><text x="395" y="482">380</text></g>
<g id="n381" class="y"><circle cx="495" cy="475" r="21.5"/><text x="495" y="482">381</text></g>
<g id="n382" class="y"><circle cx="601" cy="475" r="21.5"/><text x="601" y="482">382</text></g>
<g id="n383" class="o"><circle cx="702" cy="475" r="21.5"/><text x="702" y="482">383</text></g>
<g id="n384" class="o"><circle cx="802" cy="475" r="21.5"/><text x="802" y="482">384</text></g>
<g id="n385" class="o"><circle cx="903" cy="475" r="21.5"/><text x="903" y="482">385</text></g>
<g id="n386" class="o"><circle cx="1003" cy="475" r="21.5"/><text x="1003" y="482">386</text></g>
<g id="n387" class="o"><circle cx="1104" cy="475" r="21.5"/><text x="1104" y="482">387</text></g>
<g id="n388" class="o"><circle cx="1204" cy="475" r="21.5"/><text x="1204" y="482">388</text></g>
<g id="n377" class="g"><circle cx="37" cy="504" r="21.5"/><text x="37" y="511">377</text></g>
<g id="n378" class="y"><circle cx="143" cy="504" r="21.5"/><text x="143" y="511">378</text></g>
<g id="n365" class="y"><circle cx="244" cy="504" r="21.5"/><text x="244" y="511">365</text></g>
<g id="n366" class="o"><circle cx="345" cy="504" r="21.5"/><text x="345" y="511">366</text></g>
<g id="n367" class="y"><circle cx="450" cy="504" r="21.5"/><text x="450" y="511">367</text></g>
<g id="n368" class="y"><circle cx="551" cy="504" r="21.5"/><text x="551" y="511">368</text></g>
<g id="n369" class="o"><circle cx="651" cy="504" r="21.5"/><text x="651" y="511">369</text></g>
<g id="n370" class="o"><circle cx="752" cy="504" r="21.5"/><text x="752" y="511">370</text></g>
<g id="n371" class="o"><circle cx="852" cy="504" r="21.5"/><text x="852" y="511">371</text></g>
<g id="n372" class="o"><circle cx="953" cy="504" r="21.5"/><text x="953" y="511">372</text></g>
<g id="n373" class="o"><circle cx="1054" cy="504" r="21.5"/><text x="1054" y="511">373</text></g>
<g id="n374" class="o"><circle cx="1154" cy="504" r="21.5"/><text x="1154" y="511">374</text></g>
<g id="n375" class="y"><circle cx="1255" cy="504" r="21.5"/><text x="1255" y="511">375</text></g>
<g id="n376" class="g"><circle cx="1313" cy="504" r="21.5"/><text x="1313" y="511">376</text></g>
<g id="n363" class="y"><circle cx="93" cy="533" r="21.5"/><text x="93" y="540">363</text></g>
<g id="n364" class="y"><circle cx="193" cy="533" r="21.5"/><text x="193" y="540">364</text></g>
<g id="n353" class="o"><circle cx="294" cy="533" r="21.5"/><text x="294" y="540">353</text></g>
<g id="n354" class="y"><circle cx="395" cy="533" r="21.5"/><text x="395" y="540">354</text></g>
<g id="n355" class="y"><circle cx="500" cy="533" r="21.5"/><text x="500" y="540">355</text></g>
<g id="n356" class="o"><circle cx="601" cy="533" r="21.5"/><text x="601" y="540">356</text></g>
<g id="n357" class="o"><circle cx="702" cy="533" r="21.5"/><text x="702" y="540">357</text></g>
<g id="n358" class="o"><circle cx="802" cy="533" r="21.5"/><text x="802" y="540">358</text></g>
<g id="n359" class="o"><circle cx="903" cy="533" r="21.5"/><text x="903" y="540">359</text></g>
<g id="n360" class="o"><circle cx="1003" cy="533" r="21.5"/><text x="1003" y="540">360</text></g>
<g id="n361" class="o"><circle cx="1104" cy="533" r="21.5"/><text x="1104" y="540">361</text></g>
<g id="n362" class="o"><circle cx="1204" cy="533" r="21.5"/><text x="1204" y="540">362</text></g>
<g id="n351" class="g"><circle cx="43" cy="562" r="21.5"/><text x="43" y="569">351</text></g>
<g id="n352" class="o"><circle cx="143" cy="562" r="21.5"/><text x="143" y="569">352</text></g>
<g id="n339" class="y"><circle cx="244" cy="562" r="21.5"/><text x="244" y="569">339</text></g>
<g id="n340" class="y"><circle cx="345" cy="562" r="21.5"/><text x="345" y="569">340</text></g>
<g id="n341" class="y"><circle cx="452" cy="562" r="21.5"/><text x="452" y="569">341</text></g>
<g id="n342" class="o"><circle cx="551" cy="562" r="21.5"/><text x="551" y="569">342</text></g>
<g id="n343" class="o"><circle cx="651" cy="562" r="21.5"/><text x="651" y="569">343</text></g>
<g id="n344" class="o"><circle cx="752" cy="562" r="21.5"/><text x="752" y="569">344</text></g>
<g id="n345" class="o"><circle cx="852" cy="562" r="21.5"/><text x="852" y="569">345</text></g>
<g id="n346" class="o"><circle cx="953" cy="562" r="21.5"/><text x="953" y="569">346</text></g>
<g id="n347" class="o"><circle cx="1054" cy="562" r="21.5"/><text x="1054" y="569">347</text></g>
<g id="n348" class="o"><circle cx="1154" cy="562" r="21.5"/><text x="1154" y="569">348</text></g>
<g id="n349" class="y"><circle cx="1255" cy="562" r="21.5"/><text x="1255" y="569">349</text></g>
<g id="n350" class="g"><circle cx="1313" cy="562" r="21.5"/><text x="1313" y="569">350</text></g>
<g id="n337" class="y"><circle cx="93" cy="591" r="21.5"/><text x="93" y="598">337</text></g>
<g id="n338" class="y"><circle cx="193" cy="591" r="21.5"/><text x="193" y="598">338</text></g>
<g id="n327" class="y"><circle cx="294" cy="591" r="21.5"/><text x="294" y="598">327</text></g>
<g id="n328" class="y"><circle cx="400" cy="591" r="21.5"/><text x="400" y="598">328</text></g>
<g id="n329" class="o"><circle cx="500" cy="591" r="21.5"/><text x="500" y="598">329</text></g>
<g id="n330" class="o"><circle cx="601" cy="591" r="21.5"/><text x="601" y="598">330</text></g>
<g id="n331" class="o"><circle cx="702" cy="591" r="21.5"/><text x="702" y="598">331</text></g>
<g id="n332" class="o"><circle cx="802" cy="591" r="21.5"/><text x="802" y="598">332</text></g>
<g id="n333" class="o"><circle cx="903" cy="591" r="21.5"/><text x="903" y="598">333</text></g>
<g id="n334" class="o"><circle cx="1003" cy="591" r="21.5"/><text x="1003" y="598">334</text></g>
<g id="n335" class="o"><circle cx="1104" cy="591" r="21.5"/><text x="1104" y="598">335</text></g>
<g id="n336" class="o"><circle cx="1204" cy="591" r="21.5"/><text x="1204" y="598">336</text></g>
<g id="n326" class="g"><circle cx="37" cy="620" r="21.5"/><text x="37" y="627">326</text></g>
<g id="n325" class="y"><circle cx="143" cy="620" r="21.5"/><text x="143" y="627">325</text></g>
<g id="n313" class="g"><circle cx="244" cy="620" r="21.5"/><text x="244" y="627">313</text></g>
<g id="n314" class="y"><circle cx="349" cy="620" r="21.5"/><text x="349" y="627">314</text></g>
<g id="n315" class="o"><circle cx="452" cy="620" r="21.5"/><text x="452" y="627">315</text></g>
<g id="n316" class="o"><circle cx="551" cy="620" r="21.5"/><text x="551" y="627">316</text></g>
<g id="n317" class="o"><circle cx="651" cy="620" r="21.5"/><text x="651" y="627">317</text></g>
<g id="n318" class="o"><circle cx="752" cy="620" r="21.5"/><text x="752" y="627">318</text></g>
<g id="n319" class="o"><circle cx="852" cy="620" r="21.5"/><text x="852" y="627">319</text></g>
<g id="n320" class="o"><circle cx="953" cy="620" r="21.5"/><text x="953" y="627">320</text></g>
<g id="n321" class="o"><circle cx="1054" cy="620" r="21.5"/><text x="1054" y="627">321</text></g>
<g id="n322" class="o"><circle cx="1154" cy="620" r="21.5"/><text x="1154" y="627">322</text></g>
<g id="n323" class="y"><circle cx="1255" cy="620" r="21.5"/><text x="1255" y="627">323</text></g>
<g id="n324" class="g"><circle cx="1313" cy="620" r="21.5"/><text x="1313" y="627">324</text></g>
<g id="n312" class="y"><circle cx="87" cy="649" r="21.5"/><text x="87" y="656">312</text></g>
<g id="n311" class="g"><circle cx="193" cy="649" r="21.5"/><text x="193" y="656">311</text></g>
<g id="n301" class="y"><circle cx="299" cy="649" r="21.5"/><text x="299" y="656">301</text></g>
<g id="n302" class="o"><circle cx="400" cy="649" r="21.5"/><text x="400" y="656">302</text></g>
<g id="n303" class="o"><circle cx="500" cy="649" r="21.5"/><text x="500" y="656">303</text></g>
<g id="n304" class="o"><circle cx="601" cy="649" r="21.5"/><text x="601" y="656">304</text></g>
<g id="n305" class="o"><circle cx="702" cy="649" r="21.5"/><text x="702" y="656">305</text></g>
<g id="n306" class="o"><circle cx="802" cy="649" r="21.5"/><text x="802" y="656">306</text></g>
<g id="n307" class="o"><circle cx="903" cy="649" r="21.5"/><text x="903" y="656">307</text></g>
<g id="n308" class="o"><circle cx="1003" cy="649" r="21.5"/><text x="1003" y="656">308</text></g>
<g id="n309" class="o"><circle cx="1104" cy="649" r="21.5"/><text x="1104" y="656">309</text></g>
<g id="n310" class="o"><circle cx="1204" cy="649" r="21.5"/><text x="1204" y="656">310</text></g>
<g id="n299" class="y"><circle cx="37" cy="678" r="21.5"/><text x="37" y="685">299</text></g>
<g id="n300" class="y"><circle cx="137" cy="678" r="21.5"/><text x="137" y="685">300</text></g>
<g id="n287" class="g"><circle cx="249" cy="678" r="21.5"/><text x="249" y="685">287</text></g>
<g id="n288" class="o"><circle cx="349" cy="678" r="21.5"/><text x="349" y="685">288</text></g>
<g id="n289" class="o"><circle cx="452" cy="678" r="21.5"/><text x="452" y="685">289</text></g>
<g id="n290" class="o"><circle cx="551" cy="678" r="21.5"/><text x="551" y="685">290</text></g>
<g id="n291" class="o"><circle cx="651" cy="678" r="21.5"/><text x="651" y="685">291</text></g>
<g id="n292" class="o"><circle cx="752" cy="678" r="21.5"/><text x="752" y="685">292</text></g>
<g id="n293" class="o"><circle cx="852" cy="678" r="21.5"/><text x="852" y="685">293</text></g>
<g id="n294" class="o"><circle cx="953" cy="678" r="21.5"/><text x="953" y="685">294</text></g>
<g id="n295" class="o"><circle cx="1054" cy="678" r="21.5"/><text x="1054" y="685">295</text></g>
<g id="n296" class="o"><circle cx="1154" cy="678" r="21.5"/><text x="1154" y="685">296</text></g>
<g id="n297" class="y"><circle cx="1255" cy="678" r="21.5"/><text x="1255" y="685">297</text></g>
<g id="n298" class="g"><circle cx="1313" cy="678" r="21.5"/><text x="1313" y="685">298</text></g>
<g id="n285" class="o"><circle cx="87" cy="707" r="21.5"/><text x="87" y="714">285</text></g>
<g id="n286" class="y"><circle cx="188" cy="707" r="21.5"/><text x="188" y="714">286</text></g>
<g id="n275" class="y"><circle cx="299" cy="707" r="21.5"/><text x="299" y="714">275</text></g>
<g id="n276" class="o"><circle cx="400" cy="707" r="21.5"/><text x="400" y="714">276</text></g>
<g id="n277" class="o"><circle cx="500" cy="707" r="21.5"/><text x="500" y="714">277</text></g>
<g id="n278" class="o"><circle cx="601" cy="707" r="21.5"/><text x="601" y="714">278</text></g>
<g id="n279" class="o"><circle cx="702" cy="707" r="21.5"/><text x="702" y="714">279</text></g>
<g id="n280" class="o"><circle cx="802" cy="707" r="21.5"/><text x="802" y="714">280</text></g>
<g id="n281" class="o"><circle cx="903" cy="707" r="21.5"/><text x="903" y="714">281</text></g>
<g id="n282" class="o"><circle cx="1003" cy="707" r="21.5"/><text x="1003" y="714">282</text></g>
<g id="n283" class="o"><circle cx="1104" cy="707" r="21.5"/><text x="1104" y="714">283</text></g>
<g id="n284" class="o"><circle cx="1204" cy="707" r="21.5"/><text x="1204" y="714">284</text></g>
<g id="n272" class="y"><circle cx="37" cy="736" r="21.5"/><text x="37" y="743">272</text></g>
<g id="n273" class="o"><circle cx="137" cy="736" r="21.5"/><text x="137" y="743">273</text></g>
<g id="n274" class="y"><circle cx="238" cy="736" r="21.5"/><text x="238" y="743">274</text></g>
<g id="n261" class="y"><circle cx="349" cy="736" r="21.5"/><text x="349" y="743">261</text></g>
<g id="n262" class="o"><circle cx="452" cy="736" r="21.5"/><text x="452" y="743">262</text></g>
<g id="n263" class="o"><circle cx="551" cy="736" r="21.5"/><text x="551" y="743">263</text></g>
<g id="n264" class="o"><circle cx="651" cy="736" r="21.5"/><text x="651" y="743">264</text></g>
<g id="n265" class="o"><circle cx="752" cy="736" r="21.5"/><text x="752" y="743">265</text></g>
<g id="n266" class="o"><circle cx="852" cy="736" r="21.5"/><text x="852" y="743">266</text></g>
<g id="n267" class="o"><circle cx="953" cy="736" r="21.5"/><text x="953" y="743">267</text></g>
<g id="n268" class="o"><circle cx="1054" cy="736" r="21.5"/><text x="1054" y="743">268</text></g>
<g id="n269" class="o"><circle cx="1154" cy="736" r="21.5"/><text x="1154" y="743">269</text></g>
<g id="n270" class="y"><circle cx="1255" cy="736" r="21.5"/><text x="1255" y="743">270</text></g>
<g id="n271" class="g"><circle cx="1313" cy="736" r="21.5"/><text x="1313" y="743">271</text></g>
<g id="n258" class="o"><circle cx="87" cy="765" r="21.5"/><text x="87" y="772">258</text></g>
<g id="n259" class="o"><circle cx="188" cy="765" r="21.5"/><text x="188" y="772">259</text></g>
<g id="n260" class="y"><circle cx="288" cy="765" r="21.5"/><text x="288" y="772">260</text></g>
<g id="n249" class="y"><circle cx="400" cy="765" r="21.5"/><text x="400" y="772">249</text></g>
<g id="n250" class="o"><circle cx="500" cy="765" r="21.5"/><text x="500" y="772">250</text></g>
<g id="n251" class="o"><circle cx="601" cy="765" r="21.5"/><text x="601" y="772">251</text></g>
<g id="n252" class="o"><circle cx="702" cy="765" r="21.5"/><text x="702" y="772">252</text></g>
<g id="n253" class="o"><circle cx="802" cy="765" r="21.5"/><text x="802" y="772">253</text></g>
<g id="n254" class="o"><circle cx="903" cy="765" r="21.5"/><text x="903" y="772">254</text></g>
<g id="n255" class="o"><circle cx="1003" cy="765" r="21.5"/><text x="1003" y="772">255</text></g>
<g id="n256" class="o"><circle cx="1104" cy="765" r="21.5"/><text x="1104" y="772">256</text></g>
<g id="n257" class="o"><circle cx="1204" cy="765" r="21.5"/><text x="1204" y="772">257</text></g>
<g id="n245" class="y"><circle cx="37" cy="794" r="21.5"/><text x="37" y="801">245</text></g>
<g id="n246" class="o"><circle cx="137" cy="794" r="21.5"/><text x="137" y="801">246</text></g>
<g id="n247" class="o"><circle cx="238" cy="794" r="21.5"/><text x="238" y="801">247</text></g>
<g id="n248" class="y"><circle cx="338" cy="794" r="21.5"/><text x="338" y="801">248</text></g>
<g id="n235" class="y"><circle cx="452" cy="794" r="21.5"/><text x="452" y="801">235</text></g>
<g id="n236" class="o"><circle cx="551" cy="794" r="21.5"/><text x="551" y="801">236</text></g>
<g id="n237" class="o"><circle cx="651" cy="794" r="21.5"/><text x="651" y="801">237</text></g>
<g id="n238" class="o"><circle cx="752" cy="794" r="21.5"/><text x="752" y="801">238</text></g>
<g id="n239" class="o"><circle cx="852" cy="794" r="21.5"/><text x="852" y="801">239</text></g>
<g id="n240" class="o"><circle cx="953" cy="794" r="21.5"/><text x="953" y="801">240</text></g>
<g id="n241" class="o"><circle cx="1054" cy="794" r="21.5"/><text x="1054" y="801">241</text></g>
<g id="n242" class="o"><circle cx="1154" cy="794" r="21.5"/><text x="1154" y="801">242</text></g>
<g id="n243" class="y"><circle cx="1255" cy="794" r="21.5"/><text x="1255" y="801">243</text></g>
<g id="n244" class="g"><circle cx="1313" cy="794" r="21.5"/><text x="1313" y="801">244</text></g>
<g id="n231" class="o"><circle cx="87" cy="823" r="21.5"/><text x="87" y="830">231</text></g>
<g id="n232" class="o"><circle cx="188" cy="823" r="21.5"/><text x="188" y="830">232</text></g>
<g id="n233" class="o"><circle cx="288" cy="823" r="21.5"/><text x="288" y="830">233</text></g>
<g id="n234" class="y"><circle cx="389" cy="823" r="21.5"/><text x="389" y="830">234</text></g>
<g id="n223" class="y"><circle cx="500" cy="823" r="21.5"/><text x="500" y="830">223</text></g>
<g id="n224" class="o"><circle cx="601" cy="823" r="21.5"/><text x="601" y="830">224</text></g>
<g id="n225" class="o"><circle cx="702" cy="823" r="21.5"/><text x="702" y="830">225</text></g>
<g id="n226" class="o"><circle cx="802" cy="823" r="21.5"/><text x="802" y="830">226</text></g>
<g id="n227" class="o"><circle cx="903" cy="823" r="21.5"/><text x="903" y="830">227</text></g>
<g id="n228" class="o"><circle cx="1003" cy="823" r="21.5"/><text x="1003" y="830">228</text></g>
<g id="n229" class="o"><circle cx="1104" cy="823" r="21.5"/><text x="1104" y="830">229</text></g>
<g id="n230" class="o"><circle cx="1204" cy="823" r="21.5"/><text x="1204" y="830">230</text></g>
<g id="n218" class="y"><circle cx="37" cy="852" r="21.5"/><text x="37" y="859">218</text></g>
<g id="n219" class="o"><circle cx="137" cy="852" r="21.5"/><text x="137" y="859">219</text></g>
<g id="n220" class="o"><circle cx="238" cy="852" r="21.5"/><text x="238" y="859">220</text></g>
<g id="n221" class="o"><circle cx="338" cy="852" r="21.5"/><text x="338" y="859">221</text></g>
<g id="n222" class="y"><circle cx="440" cy="852" r="21.5"/><text x="440" y="859">222</text></g>
<g id="n209" class="y"><circle cx="551" cy="852" r="21.5"/><text x="551" y="859">209</text></g>
<g id="n210" class="o"><circle cx="651" cy="852" r="21.5"/><text x="651" y="859">210</text></g>
<g id="n211" class="o"><circle cx="752" cy="852" r="21.5"/><text x="752" y="859">211</text></g>
<g id="n212" class="o"><circle cx="852" cy="852" r="21.5"/><text x="852" y="859">212</text></g>
<g id="n213" class="o"><circle cx="953" cy="852" r="21.5"/><text x="953" y="859">213</text></g>
<g id="n214" class="o"><circle cx="1054" cy="852" r="21.5"/><text x="1054" y="859">214</text></g>
<g id="n215" class="o"><circle cx="1154" cy="852" r="21.5"/><text x="1154" y="859">215</text></g>
<g id="n216" class="y"><circle cx="1255" cy="852" r="21.5"/><text x="1255" y="859">216</text></g>
<g id="n217" class="g"><circle cx="1313" cy="852" r="21.5"/><text x="1313" y="859">217</text></g>
<g id="n204" class="o"><circle cx="87" cy="881" r="21.5"/><text x="87" y="888">204</text></g>
<g id="n205" class="o"><circle cx="188" cy="881" r="21.5"/><text x="188" y="888">205</text></g>
<g id="n206" class="o"><circle cx="288" cy="881" r="21.5"/><text x="288" y="888">206</text></g>
<g id="n207" class="o"><circle cx="389" cy="881" r="21.5"/><text x="389" y="888">207</text></g>
<g id="n208" class="y"><circle cx="489" cy="881" r="21.5"/><text x="489" y="888">208</text></g>
<g id="n197" class="y"><circle cx="601" cy="881" r="21.5"/><text x="601" y="888">197</text></g>
<g id="n198" class="o"><circle cx="702" cy="881" r="21.5"/><text x="702" y="888">198</text></g>
<g id="n199" class="o"><circle cx="802" cy="881" r="21.5"/><text x="802" y="888">199</text></g>
<g id="n200" class="o"><circle cx="903" cy="881" r="21.5"/><text x="903" y="888">200</text></g>
<g id="n201" class="o"><circle cx="1003" cy="881" r="21.5"/><text x="1003" y="888">201</text></g>
<g id="n202" class="o"><circle cx="1104" cy="881" r="21.5"/><text x="1104" y="888">202</text></g>
<g id="n203" class="o"><circle cx="1204" cy="881" r="21.5"/><text x="1204" y="888">203</text></g>
<g id="n191" class="y"><circle cx="37" cy="910" r="21.5"/><text x="37" y="917">191</text></g>
<g id="n192" class="o"><circle cx="137" cy="910" r="21.5"/><text x="137" y="917">192</text></g>
<g id="n193" class="o"><circle cx="238" cy="910" r="21.5"/><text x="238" y="917">193</text></g>
<g id="n194" class="o"><circle cx="338" cy="910" r="21.5"/><text x="338" y="917">194</text></g>
<g id="n195" class="o"><circle cx="439" cy="910" r="21.5"/><text x="439" y="917">195</text></g>
<g id="n196" class="y"><circle cx="539" cy="910" r="21.5"/><text x="539" y="917">196</text></g>
<g id="n183" class="y"><circle cx="651" cy="910" r="21.5"/><text x="651" y="917">183</text></g>
<g id="n184" class="o"><circle cx="752" cy="910" r="21.5"/><text x="752" y="917">184</text></g>
<g id="n185" class="o"><circle cx="852" cy="910" r="21.5"/><text x="852" y="917">185</text></g>
<g id="n186" class="o"><circle cx="953" cy="910" r="21.5"/><text x="953" y="917">186</text></g>
<g id="n187" class="o"><circle cx="1054" cy="910" r="21.5"/><text x="1054" y="917">187</text></g>
<g id="n188" class="o"><circle cx="1154" cy="910" r="21.5"/><text x="1154" y="917">188</text></g>
<g id="n189" class="y"><circle cx="1255" cy="910" r="21.5"/><text x="1255" y="917">189</text></g>
<g id="n190" class="g"><circle cx="1313" cy="910" r="21.5"/><text x="1313" y="917">190</text></g>
<g id="n177" class="o"><circle cx="87" cy="939" r="21.5"/><text x="87" y="946">177</text></g>
<g id="n178" class="o"><circle cx="188" cy="939" r="21.5"/><text x="188" y="946">178</text></g>
<g id="n179" class="o"><circle cx="288" cy="939" r="21.5"/><text x="288" y="946">179</text></g>
<g id="n180" class="o"><circle cx="389" cy="939" r="21.5"/><text x="389" y="946">180</text></g>
<g id="n181" class="o"><circle cx="489" cy="939" r="21.5"/><text x="489" y="946">181</text></g>
<g id="n182" class="y"><circle cx="590" cy="939" r="21.5"/><text x="590" y="946">182</text></g>
<g id="n171" class="y"><circle cx="702" cy="939" r="21.5"/><text x="702" y="946">171</text></g>
<g id="n172" class="o"><circle cx="802" cy="939" r="21.5"/><text x="802" y="946">172</text></g>
<g id="n173" class="o"><circle cx="903" cy="939" r="21.5"/><text x="903" y="946">173</text></g>
<g id="n174" class="o"><circle cx="1003" cy="939" r="21.5"/><text x="1003" y="946">174</text></g>
<g id="n175" class="o"><circle cx="1104" cy="939" r="21.5"/><text x="1104" y="946">175</text></g>
<g id="n176" class="o"><circle cx="1204" cy="939" r="21.5"/><text x="1204" y="946">176</text></g>
<g id="n164" class="y"><circle cx="37" cy="968" r="21.5"/><text x="37" y="975">164</text></g>
<g id="n165" class="o"><circle cx="137" cy="968" r="21.5"/><text x="137" y="975">165</text></g>
<g id="n166" class="o"><circle cx="238" cy="968" r="21.5"/><text x="238" y="975">166</text></g>
<g id="n167" class="o"><circle cx="338" cy="968" r="21.5"/><text x="338" y="975">167</text></g>
<g id="n168" class="o"><circle cx="439" cy="968" r="21.5"/><text x="439" y="975">168</text></g>
<g id="n169" class="o"><circle cx="539" cy="968" r="21.5"/><text x="539" y="975">169</text></g>
<g id="n170" class="y"><circle cx="640" cy="968" r="21.5"/><text x="640" y="975">170</text></g>
<g id="n157" class="y"><circle cx="752" cy="968" r="21.5"/><text x="752" y="975">157</text></g>
<g id="n158" class="o"><circle cx="852" cy="968" r="21.5"/><text x="852" y="975">158</text></g>
<g id="n159" class="o"><circle cx="953" cy="968" r="21.5"/><text x="953" y="975">159</text></g>
<g id="n160" class="o"><circle cx="1054" cy="968" r="21.5"/><text x="1054" y="975">160</text></g>
<g id="n161" class="o"><circle cx="1154" cy="968" r="21.5"/><text x="1154" y="975">161</text></g>
<g id="n162" class="y"><circle cx="1255" cy="968" r="21.5"/><text x="1255" y="975">162</text></g>
<g id="n163" class="g"><circle cx="1313" cy="968" r="21.5"/><text x="1313" y="975">163</text></g>
<g id="n150" class="o"><circle cx="87" cy="997" r="21.5"/><text x="87" y="1004">150</text></g>
<g id="n151" class="o"><circle cx="188" cy="997" r="21.5"/><text x="188" y="1004">151</text></g>
<g id="n152" class="o"><circle cx="288" cy="997" r="21.5"/><text x="288" y="1004">152</text></g>
<g id="n153" class="o"><circle cx="389" cy="997" r="21.5"/><text x="389" y="1004">153</text></g>
<g id="n154" class="o"><circle cx="489" cy="997" r="21.5"/><text x="489" y="1004">154</text></g>
<g id="n155" class="o"><circle cx="590" cy="997" r="21.5"/><text x="590" y="1004">155</text></g>
<g id="n156" class="y"><circle cx="690" cy="997" r="21.5"/><text x="690" y="1004">156</text></g>
<g id="n145" class="y"><circle cx="802" cy="997" r="21.5"/><text x="802" y="1004">145</text></g>
<g id="n146" class="o"><circle cx="903" cy="997" r="21.5"/><text x="903" y="1004">146</text></g>
<g id="n147" class="o"><circle cx="1003" cy="997" r="21.5"/><text x="1003" y="1004">147</text></g>
<g id="n148" class="o"><circle cx="1104" cy="997" r="21.5"/><text x="1104" y="1004">148</text></g>
<g id="n149" class="o"><circle cx="1204" cy="997" r="21.5"/><text x="1204" y="1004">149</text></g>
<g id="n137" class="y"><circle cx="37" cy="1026" r="21.5"/><text x="37" y="1033">137</text></g>
<g id="n138" class="o"><circle cx="137" cy="1026" r="21.5"/><text x="137" y="1033">138</text></g>
<g id="n139" class="o"><circle cx="238" cy="1026" r="21.5"/><text x="238" y="1033">139</text></g>
<g id="n140" class="o"><circle cx="338" cy="1026" r="21.5"/><text x="338" y="1033">140</text></g>
<g id="n141" class="o"><circle cx="439" cy="1026" r="21.5"/><text x="439" y="1033">141</text></g>
<g id="n142" class="o"><circle cx="539" cy="1026" r="21.5"/><text x="539" y="1033">142</text></g>
<g id="n143" class="o"><circle cx="640" cy="1026" r="21.5"/><text x="640" y="1033">143</text></g>
<g id="n144" class="y"><circle cx="741" cy="1026" r="21.5"/><text x="741" y="1033">144</text></g>
<g id="n131" class="y"><circle cx="852" cy="1026" r="21.5"/><text x="852" y="1033">131</text></g>
<g id="n132" class="o"><circle cx="953" cy="1026" r="21.5"/><text x="953" y="1033">132</text></g>
<g id="n133" class="o"><circle cx="1054" cy="1026" r="21.5"/><text x="1054" y="1033">133</text></g>
<g id="n134" class="o"><circle cx="1154" cy="1026" r="21.5"/><text x="1154" y="1033">134</text></g>
<g id="n135" class="y"><circle cx="1255" cy="1026" r="21.5"/><text x="1255" y="1033">135</text></g>
<g id="n136" class="g"><circle cx="1313" cy="1026" r="21.5"/><text x="1313" y="1033">136</text></g>
<g id="n123" class="o"><circle cx="87" cy="1055" r="21.5"/><text x="87" y="1062">123</text></g>
<g id="n124" class="o"><circle cx="188" cy="1055" r="21.5"/><text x="188" y="1062">124</text></g>
<g id="n125" class="o"><circle cx="288" cy="1055" r="21.5"/><text x="288" y="1062">125</text></g>
<g id="n126" class="o"><circle cx="389" cy="1055" r="21.5"/><text x="389" y="1062">126</text></g>
<g id="n127" class="o"><circle cx="489" cy="1055" r="21.5"/><text x="489" y="1062">127</text></g>
<g id="n128" class="o"><circle cx="590" cy="1055" r="21.5"/><text x="590" y="1062">128</text></g>
<g id="n129" class="o"><circle cx="690" cy="1055" r="21.5"/><text x="690" y="1062">129</text></g>
<g id="n130" class="y"><circle cx="791" cy="1055" r="21.5"/><text x="791" y="1062">130</text></g>
<g id="n119" class="y"><circle cx="903" cy="1055" r="21.5"/><text x="903" y="1062">119</text></g>
<g id="n120" class="o"><circle cx="1003" cy="1055" r="21.5"/><text x="1003" y="1062">120</text></g>
<g id="n121" class="o"><circle cx="1104" cy="1055" r="21.5"/><text x="1104" y="1062">121</text></g>
<g id="n122" class="o"><circle cx="1204" cy="1055" r="21.5"/><text x="1204" y="1062">122</text></g>
<g id="n110" class="y"><circle cx="37" cy="1084" r="21.5"/><text x="37" y="1091">110</text></g>
<g id="n111" class="o"><circle cx="137" cy="1084" r="21.5"/><text x="137" y="1091">111</text></g>
<g id="n112" class="o"><circle cx="238" cy="1084" r="21.5"/><text x="238" y="1091">112</text></g>
<g id="n113" class="o"><circle cx="338" cy="1084" r="21.5"/><text x="338" y="1091">113</text></g>
<g id="n114" class="o"><circle cx="439" cy="1084" r="21.5"/><text x="439" y="1091">114</text></g>
<g id="n115" class="o"><circle cx="539" cy="1084" r="21.5"/><text x="539" y="1091">115</text></g>
<g id="n116" class="o"><circle cx="640" cy="1084" r="21.5"/><text x="640" y="1091">116</text></g>
<g id="n117" class="o"><circle cx="741" cy="1084" r="21.5"/><text x="741" y="1091">117</text></g>
<g id="n118" class="y"><circle cx="841" cy="1084" r="21.5"/><text x="841" y="1091">118</text></g>
<g id="n105" class="y"><circle cx="953" cy="1084" r="21.5"/><text x="953" y="1091">105</text></g>
<g id="n106" class="o"><circle cx="1054" cy="1084" r="21.5"/><text x="1054" y="1091">106</text></g>
<g id="n107" class="o"><circle cx="1154" cy="1084" r="21.5"/><text x="1154" y="1091">107</text></g>
<g id="n108" class="y"><circle cx="1255" cy="1084" r="21.5"/><text x="1255" y="1091">108</text></g>
<g id="n109" class="g"><circle cx="1313" cy="1084" r="21.5"/><text x="1313" y="1091">109</text></g>
<g id="n96" class="o"><circle cx="87" cy="1113" r="21.5"/><text x="87" y="1120">96</text></g>
<g id="n97" class="o"><circle cx="188" cy="1113" r="21.5"/><text x="188" y="1120">97</text></g>
<g id="n98" class="o"><circle cx="288" cy="1113" r="21.5"/><text x="288" y="1120">98</text></g>
<g id="n99" class="o"><circle cx="389" cy="1113" r="21.5"/><text x="389" y="1120">99</text></g>
<g id="n100" class="o"><circle cx="489" cy="1113" r="21.5"/><text x="489" y="1120">100</text></g>
<g id="n101" class="o"><circle cx="590" cy="1113" r="21.5"/><text x="590" y="1120">101</text></g>
<g id="n102" class="o"><circle cx="690" cy="1113" r="21.5"/><text x="690" y="1120">102</text></g>
<g id="n103" class="o"><circle cx="791" cy="1113" r="21.5"/><text x="791" y="1120">103</text></g>
<g id="n104" class="y"><circle cx="897" cy="1113" r="21.5"/><text x="897" y="1120">104</text></g>
<g id="n93" class="y"><circle cx="1003" cy="1113" r="21.5"/><text x="1003" y="1120">93</text></g>
<g id="n94" class="o"><circle cx="1104" cy="1113" r="21.5"/><text x="1104" y="1120">94</text></g>
<g id="n95" class="o"><circle cx="1204" cy="1113" r="21.5"/><text x="1204" y="1120">95</text></g>
<g id="n83" class="y"><circle cx="37" cy="1142" r="21.5"/><text x="37" y="1149">83</text></g>
<g id="n84" class="o"><circle cx="137" cy="1142" r="21.5"/><text x="137" y="1149">84</text></g>
<g id="n85" class="o"><circle cx="238" cy="1142" r="21.5"/><text x="238" y="1149">85</text></g>
<g id="n86" class="o"><circle cx="338" cy="1142" r="21.5"/><text x="338" y="1149">86</text></g>
<g id="n87" class="o"><circle cx="439" cy="1142" r="21.5"/><text x="439" y="1149">87</text></g>
<g id="n88" class="o"><circle cx="539" cy="1142" r="21.5"/><text x="539" y="1149">88</text></g>
<g id="n89" class="o"><circle cx="640" cy="1142" r="21.5"/><text x="640" y="1149">89</text></g>
<g id="n90" class="o"><circle cx="741" cy="1142" r="21.5"/><text x="741" y="1149">90</text></g>
<g id="n91" class="o"><circle cx="841" cy="1142" r="21.5"/><text x="841" y="1149">91</text></g>
<g id="n92" class="y"><circle cx="942" cy="1142" r="21.5"/><text x="942" y="1149">92</text></g>
<g id="n79" class="y"><circle cx="1054" cy="1142" r="21.5"/><text x="1054" y="1149">79</text></g>
<g id="n80" class="o"><circle cx="1154" cy="1142" r="21.5"/><text x="1154" y="1149">80</text></g>
<g id="n81" class="y"><circle cx="1255" cy="1142" r="21.5"/><text x="1255" y="1149">81</text></g>
<g id="n82" class="g"><circle cx="1313" cy="1142" r="21.5"/><text x="1313" y="1149">82</text></g>
<g id="n69" class="o"><circle cx="87" cy="1171" r="21.5"/><text x="87" y="1178">69</text></g>
<g id="n70" class="o"><circle cx="188" cy="1171" r="21.5"/><text x="188" y="1178">70</text></g>
<g id="n71" class="o"><circle cx="288" cy="1171" r="21.5"/><text x="288" y="1178">71</text></g>
<g id="n72" class="o"><circle cx="389" cy="1171" r="21.5"/><text x="389" y="1178">72</text></g>
<g id="n73" class="o"><circle cx="489" cy="1171" r="21.5"/><text x="489" y="1178">73</text></g>
<g id="n74" class="o"><circle cx="590" cy="1171" r="21.5"/><text x="590" y="1178">74</text></g>
<g id="n75" class="o"><circle cx="690" cy="1171" r="21.5"/><text x="690" y="1178">75</text></g>
<g id="n76" class="o"><circle cx="791" cy="1171" r="21.5"/><text x="791" y="1178">76</text></g>
<g id="n77" class="o"><circle cx="892" cy="1171" r="21.5"/><text x="892" y="1178">77</text></g>
<g id="n78" class="y"><circle cx="992" cy="1171" r="21.5"/><text x="992" y="1178">78</text></g>
<g id="n67" class="y"><circle cx="1104" cy="1171" r="21.5"/><text x="1104" y="1178">67</text></g>
<g id="n68" class="o"><circle cx="1204" cy="1171" r="21.5"/><text x="1204" y="1178">68</text></g>
<g id="n56" class="y"><circle cx="37" cy="1200" r="21.5"/><text x="37" y="1207">56</text></g>
<g id="n57" class="o"><circle cx="137" cy="1200" r="21.5"/><text x="137" y="1207">57</text></g>
<g id="n58" class="o"><circle cx="238" cy="1200" r="21.5"/><text x="238" y="1207">58</text></g>
<g id="n59" class="o"><circle cx="338" cy="1200" r="21.5"/><text x="338" y="1207">59</text></g>
<g id="n60" class="o"><circle cx="439" cy="1200" r="21.5"/><text x="439" y="1207">60</text></g>
<g id="n61" class="o"><circle cx="539" cy="1200" r="21.5"/><text x="539" y="1207">61</text></g>
<g id="n62" class="o"><circle cx="640" cy="1200" r="21.5"/><text x="640" y="1207">62</text></g>
<g id="n63" class="o"><circle cx="741" cy="1200" r="21.5"/><text x="741" y="1207">63</text></g>
<g id="n64" class="o"><circle cx="841" cy="1200" r="21.5"/><text x="841" y="1207">64</text></g>
<g id="n65" class="o"><circle cx="942" cy="1200" r="21.5"/><text x="942" y="1207">65</text></g>
<g id="n66" class="y"><circle cx="1042" cy="1200" r="21.5"/><text x="1042" y="1207">66</text></g>
<g id="n53" class="y"><circle cx="1154" cy="1200" r="21.5"/><text x="1154" y="1207">53</text></g>
<g id="n54" class="y"><circle cx="1255" cy="1200" r="21.5"/><text x="1255" y="1207">54</text></g>
<g id="n55" class="g"><circle cx="1313" cy="1200" r="21.5"/><text x="1313" y="1207">55</text></g>
<g id="n42" class="o"><circle cx="87" cy="1229" r="21.5"/><text x="87" y="1236">42</text></g>
<g id="n43" class="o"><circle cx="188" cy="1229" r="21.5"/><text x="188" y="1236">43</text></g>
<g id="n44" class="o"><circle cx="288" cy="1229" r="21.5"/><text x="288" y="1236">44</text></g>
<g id="n45" class="o"><circle cx="389" cy="1229" r="21.5"/><text x="389" y="1236">45</text></g>
<g id="n46" class="o"><circle cx="489" cy="1229" r="21.5"/><text x="489" y="1236">46</text></g>
<g id="n47" class="o"><circle cx="590" cy="1229" r="21.5"/><text x="590" y="1236">47</text></g>
<g id="n48" class="o"><circle cx="690" cy="1229" r="21.5"/><text x="690" y="1236">48</text></g>
<g id="n49" class="o"><circle cx="791" cy="1229" r="21.5"/><text x="791" y="1236">49</text></g>
<g id="n50" class="o"><circle cx="892" cy="1229" r="21.5"/><text x="892" y="1236">50</text></g>
<g id="n51" class="o"><circle cx="992" cy="1229" r="21.5"/><text x="992" y="1236">51</text></g>
<g id="n52" class="y"><circle cx="1093" cy="1229" r="21.5"/><text x="1093" y="1236">52</text></g>
<g id="n41" class="y"><circle cx="1204" cy="1229" r="21.5"/><text x="1204" y="1236">41</text></g>
<g id="n29" class="y"><circle cx="37" cy="1258" r="21.5"/><text x="37" y="1265">29</text></g>
<g id="n30" class="o"><circle cx="137" cy="1258" r="21.5"/><text x="137" y="1265">30</text></g>
<g id="n31" class="o"><circle cx="238" cy="1258" r="21.5"/><text x="238" y="1265">31</text></g>
<g id="n32" class="o"><circle cx="338" cy="1258" r="21.5"/><text x="338" y="1265">32</text></g>
<g id="n33" class="o"><circle cx="439" cy="1258" r="21.5"/><text x="439" y="1265">33</text></g>
<g id="n34" class="o"><circle cx="539" cy="1258" r="21.5"/><text x="539" y="1265">34</text></g>
<g id="n35" class="o"><circle cx="640" cy="1258" r="21.5"/><text x="640" y="1265">35</text></g>
<g id="n36" class="o"><circle cx="741" cy="1258" r="21.5"/><text x="741" y="1265">36</text></g>
<g id="n37" class="o"><circle cx="841" cy="1258" r="21.5"/><text x="841" y="1265">37</text></g>
<g id="n38" class="o"><circle cx="942" cy="1258" r="21.5"/><text x="942" y="1265">38</text></g>
<g id="n39" class="o"><circle cx="1042" cy="1258" r="21.5"/><text x="1042" y="1265">39</text></g>
<g id="n40" class="y"><circle cx="1143" cy="1258" r="21.5"/><text x="1143" y="1265">40</text></g>
<g id="n27" class="g"><circle cx="1255" cy="1258" r="21.5"/><text x="1255" y="1265">27</text></g>
<g id="n28" class="g"><circle cx="1313" cy="1258" r="21.5"/><text x="1313" y="1265">28</text></g>
<g id="n15" class="y"><circle cx="87" cy="1287" r="21.5"/><text x="87" y="1294">15</text></g>
<g id="n16" class="y"><circle cx="188" cy="1287" r="21.5"/><text x="188" y="1294">16</text></g>
<g id="n17" class="y"><circle cx="288" cy="1287" r="21.5"/><text x="288" y="1294">17</text></g>
<g id="n18" class="y"><circle cx="389" cy="1287" r="21.5"/><text x="389" y="1294">18</text></g>
<g id="n19" class="y"><circle cx="489" cy="1287" r="21.5"/><text x="489" y="1294">19</text></g>
<g id="n20" class="y"><circle cx="590" cy="1287" r="21.5"/><text x="590" y="1294">20</text></g>
<g id="n21" class="y"><circle cx="690" cy="1287" r="21.5"/><text x="690" y="1294">21</text></g>
<g id="n22" class="y"><circle cx="791" cy="1287" r="21.5"/><text x="791" y="1294">22</text></g>
<g id="n23" class="y"><circle cx="892" cy="1287" r="21.5"/><text x="892" y="1294">23</text></g>
<g id="n24" class="y"><circle cx="992" cy="1287" r="21.5"/><text x="992" y="1294">24</text></g>
<g id="n25" class="y"><circle cx="1093" cy="1287" r="21.5"/><text x="1093" y="1294">25</text></g>
<g id="n26" class="g"><circle cx="1193" cy="1287" r="21.5"/><text x="1193" y="1294">26</text></g>
<g id="n1" class="g"><circle cx="37" cy="1316" r="21.5"/><text x="37" y="1323">1</text></g>
<g id="n2" class="g"><circle cx="137" cy="1316" r="21.5"/><text x="137" y="1323">2</text></g>
<g id="n3" class="g"><circle cx="238" cy="1316" r="21.5"/><text x="238" y="1323">3</text></g>
<g id="n4" class="g"><circle cx="338" cy="1316" r="21.5"/><text x="338" y="1323">4</text></g>
<g id="n5" class="g"><circle cx="439" cy="1316" r="21.5"/><text x="439" y="1323">5</text></g>
<g id="n6" class="g"><circle cx="539" cy="1316" r="21.5"/><text x="539" y="1323">6</text></g>
<g id="n7" class="g"><circle cx="640" cy="1316" r="21.5"/><text x="640" y="1323">7</text></g>
<g id="n8" class="g"><circle cx="741" cy="1316" r="21.5"/><text x="741" y="1323">8</text></g>
<g id="n9" class="g"><circle cx="841" cy="1316" r="21.5"/><text x="841" y="1323">9</text></g>
<g id="n10" class="g"><circle cx="942" cy="1316" r="21.5"/><text x="942" y="1323">10</text></g>
<g id="n11" class="g"><circle cx="1042" cy="1316" r="21.5"/><text x="1042" y="1323">11</text></g>
<g id="n12" class="g"><circle cx="1143" cy="1316" r="21.5"/><text x="1143" y="1323">12</text></g>
<g id="n13" class="g"><circle cx="1243" cy="1316" r="21.5"/><text x="1243" y="1323">13</text></g>
<g id="n14" class="b"><circle cx="1301" cy="1316" r="21.5"/><text x="1301" y="1323">14</text></g>
</g>
</svg>
